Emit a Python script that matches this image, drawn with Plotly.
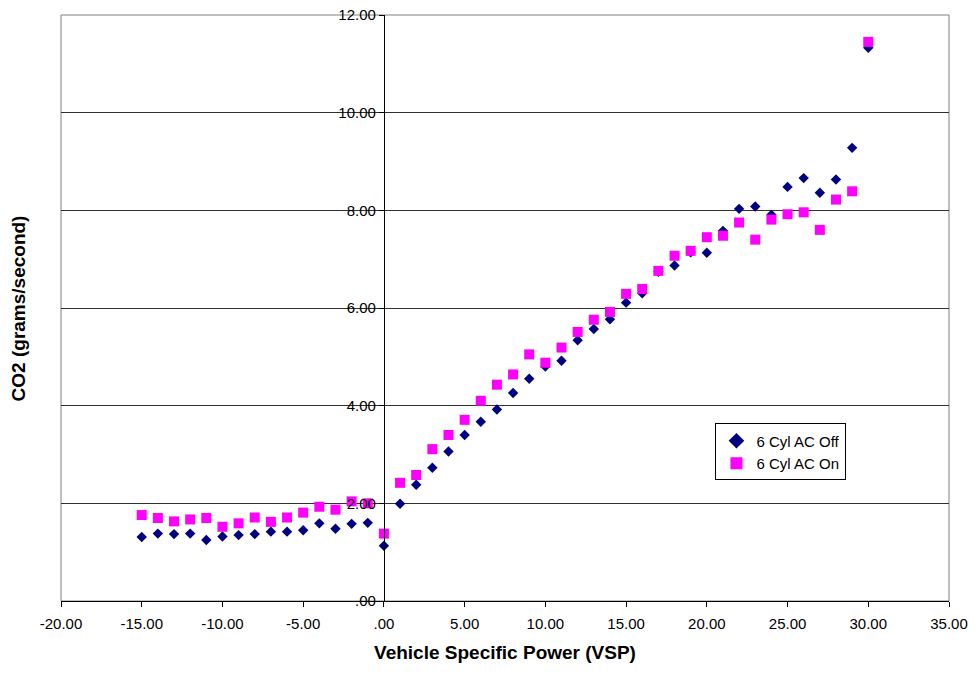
import plotly.graph_objects as go

vsp = [-15, -14, -13, -12, -11, -10, -9, -8, -7, -6, -5, -4, -3, -2, -1, 0,
       1, 2, 3, 4, 5, 6, 7, 8, 9, 10, 11, 12, 13, 14, 15, 16, 17, 18, 19, 20,
       21, 22, 23, 24, 25, 26, 27, 28, 29, 30]

ac_off = [1.31, 1.38, 1.37, 1.38, 1.25, 1.32, 1.35, 1.37, 1.42, 1.42, 1.45, 1.59, 1.48, 1.58, 1.60, 1.13,
          1.99, 2.38, 2.73, 3.06, 3.40, 3.67, 3.92, 4.26, 4.55, 4.80, 4.92, 5.34, 5.57, 5.77, 6.11, 6.30,
          6.74, 6.87, 7.14, 7.13, 7.58, 8.03, 8.08, 7.91, 8.48, 8.66, 8.36, 8.63, 9.28, 11.33]

ac_on = [1.76, 1.70, 1.63, 1.67, 1.70, 1.52, 1.59, 1.71, 1.62, 1.71, 1.81, 1.93, 1.87, 2.04, 2.00, 1.38,
         2.42, 2.58, 3.11, 3.40, 3.71, 4.10, 4.43, 4.64, 5.05, 4.88, 5.19, 5.51, 5.76, 5.92, 6.29, 6.39,
         6.76, 7.07, 7.17, 7.45, 7.48, 7.75, 7.40, 7.81, 7.92, 7.96, 7.60, 8.22, 8.39, 11.45]

x_ticks = [-20, -15, -10, -5, 0, 5, 10, 15, 20, 25, 30, 35]
x_labels = ["-20.00", "-15.00", "-10.00", "-5.00", ".00", "5.00", "10.00",
            "15.00", "20.00", "25.00", "30.00", "35.00"]
y_ticks = [0, 2, 4, 6, 8, 10, 12]
y_labels = [".00", "2.00", "4.00", "6.00", "8.00", "10.00", "12.00"]

FONT = "Liberation Sans, Arial, sans-serif"

fig = go.Figure()
fig.add_trace(go.Scatter(
    x=vsp, y=ac_off, mode="markers", name="6 Cyl AC Off",
    marker=dict(symbol="diamond", size=8, color="#000080",
                line=dict(width=0))))
fig.add_trace(go.Scatter(
    x=vsp, y=ac_on, mode="markers", name="6 Cyl AC On",
    marker=dict(symbol="square", size=10, color="#FF00FF",
                line=dict(width=0))))

x_range = [-20, 35]
fig.update_layout(
    width=975, height=673,
    margin=dict(l=61, r=26, t=15, b=72, autoexpand=False),
    paper_bgcolor="white", plot_bgcolor="white",
    font=dict(family=FONT, size=15, color="black"),
    showlegend=True,
    legend=dict(x=0.737, y=0.303, xanchor="left", yanchor="top",
                bgcolor="white", bordercolor="black", borderwidth=1,
                font=dict(family=FONT, size=15, color="black"),
                itemsizing="constant", itemwidth=30, tracegroupgap=0),
    xaxis=dict(range=x_range, tickvals=x_ticks, ticktext=x_labels,
               automargin=False,
               showgrid=False, zeroline=False, showline=True,
               linecolor="black", linewidth=1, ticks="outside", ticklen=5,
               tickcolor="black", tickfont=dict(size=15), ticklabelstandoff=4,
               title=dict(text="<b>Vehicle Specific Power (VSP)</b>",
                          font=dict(size=19), standoff=14)),
    yaxis=dict(range=[0, 12], tickvals=y_ticks, ticktext=y_labels,
               automargin=False,
               anchor="free", position=(0 - x_range[0]) / (x_range[1] - x_range[0]),
               showgrid=True, gridcolor="#303030", gridwidth=1,
               zeroline=False, showline=True, linecolor="black", linewidth=1,
               ticks="outside", ticklen=5, tickcolor="black",
               tickfont=dict(size=15)),
    shapes=[dict(type="rect", xref="paper", yref="paper", x0=0, x1=1, y0=0, y1=1,
                 line=dict(color="#808080", width=1), layer="below")],
    annotations=[dict(text="<b>CO2 (grams/second)</b>", xref="paper", yref="paper",
                      x=-0.048, y=0.5, xanchor="center", yanchor="middle",
                      textangle=-90, showarrow=False, font=dict(size=19))],
)

fig.write_html("out.html")
